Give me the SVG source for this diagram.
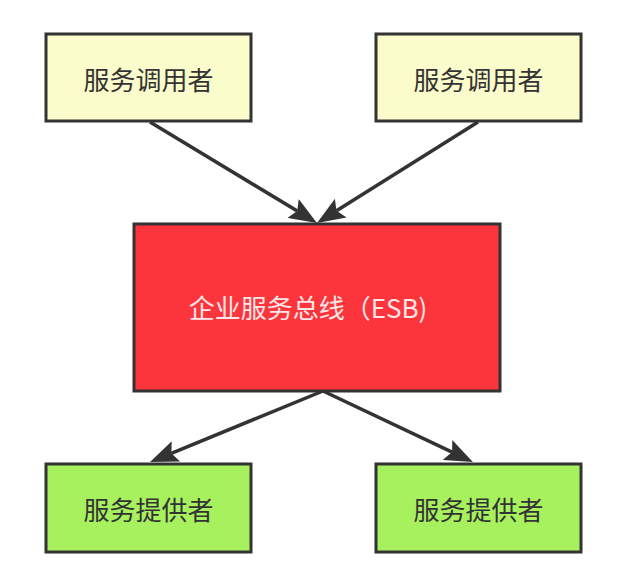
<svg xmlns="http://www.w3.org/2000/svg" width="628" height="572" viewBox="0 0 628 572">
<style>
.box{stroke:#333;stroke-width:3}
.caller{fill:#fbfccb}
.provider{fill:#a7f15f}
.bus{fill:#fc343c}
.lbl{font-family:"Noto Sans CJK SC","Noto Sans",sans-serif;font-size:26px;text-anchor:middle;dominant-baseline:central;fill:#333}
.lbl-bus{fill:#fde6e6}
.edge{stroke:#333;stroke-width:3.5;fill:none;marker-end:url(#arr)}
</style>
<defs>
<marker id="arr" markerUnits="userSpaceOnUse" markerWidth="28" markerHeight="22" refX="5" refY="11" orient="auto" viewBox="0 0 28 22">
<path d="M0,0 L28,11 L0,22 L5,11 z" fill="#333"/>
</marker>
</defs>
<rect width="628" height="572" fill="#fff"/>
<g id="connectors">
<line class="edge" x1="150" y1="122" x2="297.3" y2="211.1"/>
<line class="edge" x1="478" y1="122" x2="336.5" y2="210.8"/>
<line class="edge" x1="323" y1="391" x2="171.3" y2="453.3"/>
<line class="edge" x1="323" y1="391" x2="452.1" y2="452.1"/>
</g>
<g id="caller1">
<rect class="box caller" x="46" y="34" width="205" height="87"/>
<text class="lbl" x="148.5" y="78">服务调用者</text>
</g>
<g id="caller2">
<rect class="box caller" x="376" y="34" width="205" height="87"/>
<text class="lbl" x="478.5" y="78">服务调用者</text>
</g>
<g id="esb">
<rect class="box bus" x="134" y="224" width="366" height="167"/>
<text class="lbl lbl-bus" x="308" y="306">企业服务总线（ESB)</text>
</g>
<g id="provider1">
<rect class="box provider" x="46" y="464" width="205" height="88"/>
<text class="lbl" x="148.5" y="508">服务提供者</text>
</g>
<g id="provider2">
<rect class="box provider" x="376" y="464" width="205" height="88"/>
<text class="lbl" x="478.5" y="508">服务提供者</text>
</g>
</svg>
